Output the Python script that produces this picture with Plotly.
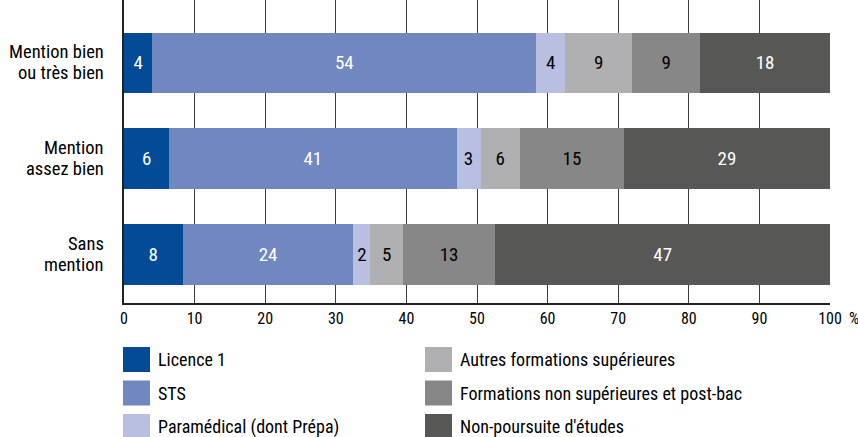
import plotly.graph_objects as go

categories = ["Mention bien<br>ou très bien", "Mention<br>assez bien", "Sans<br>mention"]
series_names = ["Licence 1", "STS", "Paramédical (dont Prépa)",
                "Autres formations supérieures",
                "Formations non supérieures et post-bac",
                "Non-poursuite d'études"]
values = [
    [4.0, 6.4, 8.3],
    [54.4, 40.7, 24.2],
    [4.1, 3.4, 2.4],
    [9.5, 5.6, 4.6],
    [9.6, 14.7, 13.1],
    [18.4, 29.2, 47.4],
]
labels = [
    [4, 6, 8],
    [54, 41, 24],
    [4, 3, 2],
    [9, 6, 5],
    [9, 15, 13],
    [18, 29, 47],
]
colors = ["#034b97", "#7087c0", "#b8bfe0", "#b0b0b2", "#878787", "#575756"]
text_colors = ["white", "white", "black", "black", "black", "white"]
x_ticks = [0, 10, 20, 30, 40, 50, 60, 70, 80, 90, 100]

FONT = "Roboto Condensed, Liberation Sans, sans-serif"

FIG_W, FIG_H = 858, 437
L, R, T, B = 124, 28, 0, 134
PW = FIG_W - L - R
PH = FIG_H - T - B


def px(xpage):
    return (xpage - L) / PW


def py(ypage):
    return 1 - (ypage - T) / PH


fig = go.Figure()
for name, vals, lab, col, tcol in zip(series_names, values, labels, colors, text_colors):
    fig.add_trace(go.Bar(
        y=categories, x=vals, name=name, orientation="h",
        marker=dict(color=col, line=dict(width=0)),
        text=[str(v) for v in lab], textposition="inside",
        insidetextanchor="middle", constraintext="none",
        textfont=dict(color=tcol, size=19, family=FONT),
        showlegend=False, hoverinfo="skip",
    ))

# category labels, one annotation per line for tighter line spacing
for cat in categories:
    lines = cat.split("<br>")
    n = len(lines)
    for j, line in enumerate(lines):
        fig.add_annotation(xref="paper", yref="y", x=px(106), y=cat,
                           yshift=-(j - (n - 1) / 2) * 21,
                           text=line, showarrow=False, xanchor="right",
                           yanchor="middle",
                           font=dict(size=18.5, color="black", family=FONT))

# manual legend (two columns, three rows)
for i, (name, col) in enumerate(zip(series_names, colors)):
    colx = 123 if i < 3 else 425
    rowy = 347 + (i % 3) * 33.5
    fig.add_shape(type="rect", xref="paper", yref="paper",
                  x0=px(colx), x1=px(colx + 27), y0=py(rowy + 25), y1=py(rowy),
                  fillcolor=col, line=dict(width=0))
    fig.add_annotation(xref="paper", yref="paper",
                       x=px(colx + 33), y=py(rowy + 12.5),
                       text=name, showarrow=False, xanchor="left", yanchor="middle",
                       font=dict(size=18, color="black", family=FONT))

fig.add_annotation(xref="paper", yref="paper", x=px(854), y=py(318),
                   text="%", showarrow=False, xanchor="center", yanchor="middle",
                   font=dict(size=16, color="black", family=FONT))

fig.update_layout(
    barmode="stack", bargap=0.363,
    width=FIG_W, height=FIG_H,
    margin=dict(l=L, r=R, t=T, b=B, autoexpand=False),
    plot_bgcolor="white", paper_bgcolor="white",
    font=dict(family=FONT, color="black"),
    hovermode=False,
    xaxis=dict(range=[0, 100], tickvals=x_ticks, showgrid=True,
               gridcolor="#3a3a3a", gridwidth=1, showline=True,
               linecolor="#222222", linewidth=2, zeroline=False,
               ticks="", tickfont=dict(size=16, family=FONT), ticklabelstandoff=0),
    yaxis=dict(categoryorder="array", categoryarray=categories,
               range=[2.507, -0.658], showline=True, linecolor="#222222",
               linewidth=2, ticks="", showgrid=False, showticklabels=False),
)

fig.write_html("out.html", config={"displayModeBar": False},
               post_script="document.body.style.margin='0';document.body.style.overflow='hidden';")
